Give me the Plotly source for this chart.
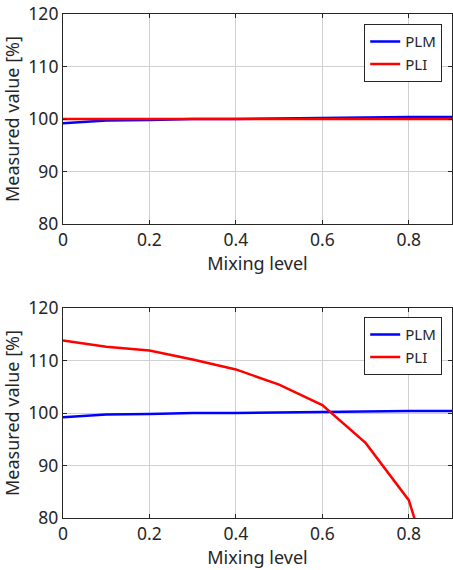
import plotly.graph_objects as go

mixing = [0, 0.1, 0.2, 0.3, 0.4, 0.5, 0.6, 0.7, 0.8, 0.9]
plm = [99.2, 99.7, 99.8, 100.0, 100.0, 100.1, 100.3, 100.4, 100.4, 100.4]
pli_top = [100.0, 100.0, 100.0, 100.0, 100.0, 100.0, 100.0, 100.0, 100.0, 100.0]
pli_bottom = [113.8, 112.6, 111.9, 110.2, 108.3, 105.4, 101.5, 94.3, 83.4, 57.0]

FONT = "Noto Sans"
BLUE = "#0000FF"
RED = "#FF0000"
TXT = "#262626"

fig = go.Figure()

fig.add_trace(go.Scatter(x=mixing, y=plm, mode="lines", name="PLM",
                         line=dict(color=BLUE, width=2.5), xaxis="x", yaxis="y", legend="legend"))
fig.add_trace(go.Scatter(x=mixing, y=pli_top, mode="lines", name="PLI",
                         line=dict(color=RED, width=2.5), xaxis="x", yaxis="y", legend="legend"))
fig.add_trace(go.Scatter(x=mixing, y=plm, mode="lines", name="PLM",
                         line=dict(color=BLUE, width=2.5), xaxis="x2", yaxis="y2", legend="legend2"))
fig.add_trace(go.Scatter(x=mixing, y=pli_bottom, mode="lines", name="PLI",
                         line=dict(color=RED, width=2.5), xaxis="x2", yaxis="y2", legend="legend2"))

axis_common = dict(showline=True, linecolor=TXT, linewidth=1.2, mirror="ticks",
                   ticks="inside", ticklen=4, tickcolor=TXT, automargin=False,
                   showgrid=True, gridcolor="#d0d0d0", gridwidth=1,
                   zeroline=False, tickfont=dict(family=FONT, size=17.5, color=TXT))

title_font = dict(family=FONT, size=18, color=TXT)
xdom = [63 / 453, 452 / 453]
fig.update_layout(
    width=453, height=570,
    margin=dict(l=0, r=0, t=0, b=0),
    paper_bgcolor="white", plot_bgcolor="white",
    font=dict(family=FONT, color=TXT),
    xaxis=dict(domain=xdom, range=[0, 0.9], tickvals=[0, 0.2, 0.4, 0.6, 0.8],
               ticktext=["0", "0.2", "0.4", "0.6", "0.8"], anchor="y",
               title=dict(text="Mixing level", font=title_font, standoff=4),
               **axis_common),
    yaxis=dict(domain=[1 - 224 / 570, 1 - 14 / 570], range=[80, 120], tickvals=[80, 90, 100, 110, 120],
               anchor="x",
               title=dict(text="Measured value [%]", font=title_font, standoff=6),
               **axis_common),
    xaxis2=dict(domain=xdom, range=[0, 0.9], tickvals=[0, 0.2, 0.4, 0.6, 0.8],
                ticktext=["0", "0.2", "0.4", "0.6", "0.8"], anchor="y2",
                title=dict(text="Mixing level", font=title_font, standoff=4),
                **axis_common),
    yaxis2=dict(domain=[1 - 518 / 570, 1 - 308 / 570], range=[80, 120], tickvals=[80, 90, 100, 110, 120],
                anchor="x2",
                title=dict(text="Measured value [%]", font=title_font, standoff=6),
                **axis_common),
    legend=dict(x=442 / 453, y=1 - 24 / 570, xanchor="right", yanchor="top",
                bordercolor=TXT, borderwidth=1.2, bgcolor="white",
                font=dict(family=FONT, size=15, color=TXT),
                itemwidth=30, tracegroupgap=0),
    legend2=dict(x=442 / 453, y=1 - 317 / 570, xanchor="right", yanchor="top",
                 bordercolor=TXT, borderwidth=1.2, bgcolor="white",
                 font=dict(family=FONT, size=15, color=TXT),
                 itemwidth=30, tracegroupgap=0),
)

fig.write_html("out.html")
